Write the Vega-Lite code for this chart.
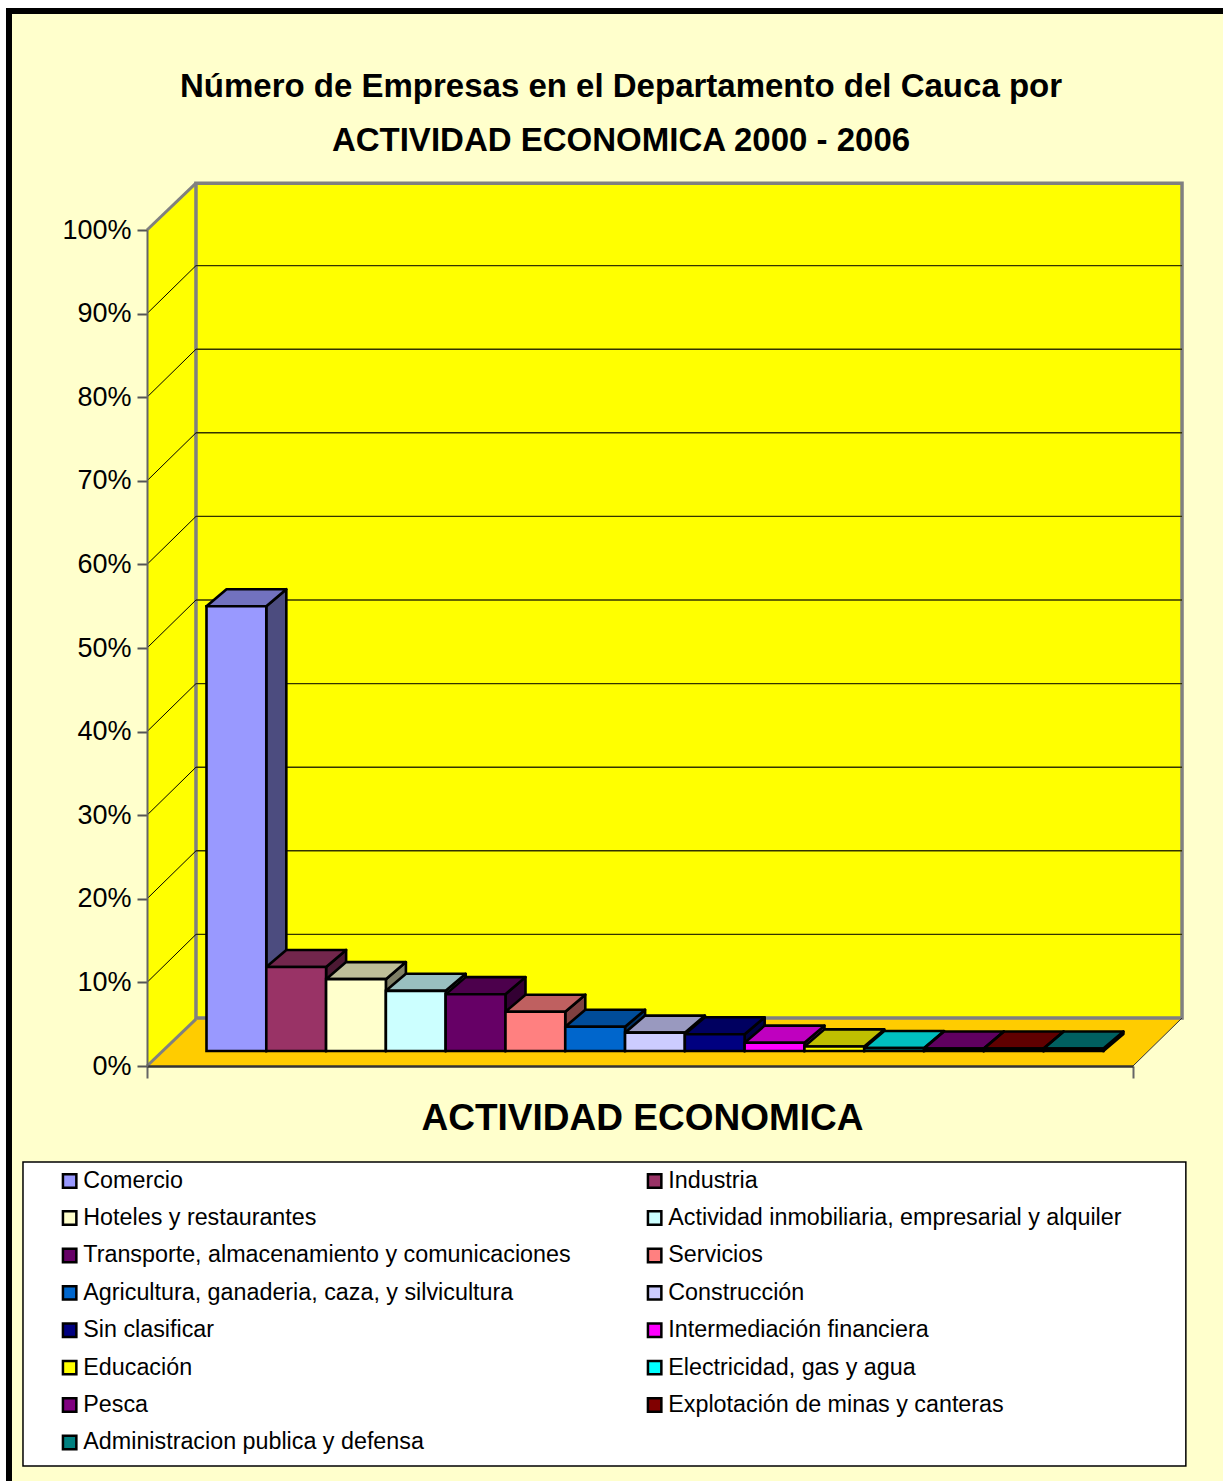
{
"$schema":"https://vega.github.io/schema/vega-lite/v6.json",
"width":986,"height":836,"autosize":"none",
"padding":{"left":147,"right":90,"top":230,"bottom":415},
"background":"#ffffff",
"title":{"text":["Número de Empresas en el Departamento del Cauca por","ACTIVIDAD ECONOMICA 2000 - 2006"],"font":"Liberation Sans","fontSize":33,"fontWeight":"bold","color":"#000000","anchor":"middle","frame":"group","dx":-19,"lineHeight":54,"offset":0,"dy":150,"zindex":1},
"datasets":{
"empresas":[
{"actividad":"Comercio","valor":53.2},
{"actividad":"Industria","valor":10.05},
{"actividad":"Hoteles y restaurantes","valor":8.6},
{"actividad":"Actividad inmobiliaria, empresarial y alquiler","valor":7.2},
{"actividad":"Transporte, almacenamiento y comunicaciones","valor":6.8},
{"actividad":"Servicios","valor":4.7},
{"actividad":"Agricultura, ganaderia, caza, y silvicultura","valor":2.9},
{"actividad":"Construcción","valor":2.2},
{"actividad":"Sin clasificar","valor":2.0},
{"actividad":"Intermediación financiera","valor":1.0},
{"actividad":"Educación","valor":0.55},
{"actividad":"Electricidad, gas y agua","valor":0.35},
{"actividad":"Pesca","valor":0.3},
{"actividad":"Explotación de minas y canteras","valor":0.3},
{"actividad":"Administracion publica y defensa","valor":0.3}
],
"niveles":[{"nivel":0},{"nivel":10},{"nivel":20},{"nivel":30},{"nivel":40},{"nivel":50},{"nivel":60},{"nivel":70},{"nivel":80},{"nivel":90},{"nivel":100}],
"uno":[{"k":0}]
},
"encoding":{
"x":{"field":"x","type":"quantitative","scale":{"domain":[0,16.49],"nice":false,"zero":false},
 "axis":{"values":[0,16.49],"labels":false,"grid":false,"title":"ACTIVIDAD ECONOMICA","titleFont":"Liberation Sans","titleFontSize":37,"titleFontWeight":"bold","titleColor":"#000000","titlePadding":21,"titleX":495,"tickSize":12,"tickColor":"#666666","tickWidth":2,"domainColor":"#333333","domainWidth":2.5,"zindex":1}},
"y":{"field":"y","type":"quantitative","scale":{"domain":[0,100],"nice":false,"zero":false},
 "axis":{"values":[0,10,20,30,40,50,60,70,80,90,100],"labelExpr":"datum.value+'%'","grid":false,"title":null,"labelFont":"Liberation Sans","labelFontSize":27,"labelColor":"#000000","labelPadding":6,"tickSize":10,"tickColor":"#555555","tickWidth":2,"domainColor":"#666666","domainWidth":2,"zindex":1}}
},
"layer":[
{"data":{"name":"uno"},"transform":[{"calculate":"-2.308","as":"x"},{"calculate":"19.3","as":"x2"},{"calculate":"126.2","as":"y"},{"calculate":"-51.9","as":"y2"}],
 "mark":{"type":"rect","fill":"#FFFFCC","stroke":"#000000","strokeWidth":6},"encoding":{"x2":{"field":"x2"},"y2":{"field":"y2"}}},
{"data":{"name":"uno"},"transform":[{"calculate":"-2.074","as":"x"},{"calculate":"17.374","as":"x2"},{"calculate":"-11.48","as":"y"},{"calculate":"-47.85","as":"y2"}],
 "mark":{"type":"rect","fill":"#FFFFFF","stroke":"#000000","strokeWidth":1.5},"encoding":{"x2":{"field":"x2"},"y2":{"field":"y2"}}},
{"data":{"name":"uno"},"transform":[{"calculate":"[0,1]","as":"p"},{"flatten":["p"]},{"calculate":"datum.p*0.819","as":"x"},{"calculate":"datum.p*5.74","as":"y"},{"calculate":"100+datum.p*5.6","as":"y2"}],
 "mark":{"type":"area","orient":"vertical","fill":"#FFFF00"},"encoding":{"y2":{"field":"y2"}}},
{"data":{"name":"uno"},"transform":[{"calculate":"[0,1]","as":"p"},{"flatten":["p"]},{"calculate":"datum.p*0.819","as":"x"},{"calculate":"16.49+datum.p*0.819","as":"x2"},{"calculate":"datum.p*5.74","as":"y"}],
 "mark":{"type":"area","orient":"horizontal","fill":"#FFCC00"},"encoding":{"x2":{"field":"x2"}}},
{"data":{"name":"uno"},"transform":[{"calculate":"0.819","as":"x"},{"calculate":"17.31","as":"x2"},{"calculate":"5.74","as":"y"},{"calculate":"105.6","as":"y2"}],
 "mark":{"type":"rect","fill":"#FFFF00","stroke":"#808080","strokeWidth":3.5},"encoding":{"x2":{"field":"x2"},"y2":{"field":"y2"}}},
{"data":{"name":"niveles"},"transform":[{"filter":"datum.nivel>0 && datum.nivel<100"},{"calculate":"0.819","as":"x"},{"calculate":"17.31","as":"x2"},{"calculate":"datum.nivel+5.74","as":"y"}],
 "mark":{"type":"rule","stroke":"#333300","strokeWidth":1.4},"encoding":{"x2":{"field":"x2"}}},
{"data":{"name":"niveles"},"transform":[{"filter":"datum.nivel>0 && datum.nivel<100"},{"calculate":"0","as":"x"},{"calculate":"0.819","as":"x2"},{"calculate":"datum.nivel","as":"y"},{"calculate":"datum.nivel+5.74","as":"y2"}],
 "mark":{"type":"rule","stroke":"#000000","strokeWidth":1},"encoding":{"x2":{"field":"x2"},"y2":{"field":"y2"}}},
{"data":{"name":"niveles"},"transform":[{"filter":"datum.nivel==0 || datum.nivel==100"},{"calculate":"0","as":"x"},{"calculate":"0.819","as":"x2"},{"calculate":"datum.nivel","as":"y"},{"calculate":"datum.nivel+5.6","as":"y2"}],
 "mark":{"type":"rule","stroke":"#808080","strokeWidth":3},"encoding":{"x2":{"field":"x2"},"y2":{"field":"y2"}}},
{"data":{"name":"uno"},"transform":[{"calculate":"16.49","as":"x"},{"calculate":"17.31","as":"x2"},{"calculate":"0","as":"y"},{"calculate":"5.74","as":"y2"}],
 "mark":{"type":"rule","stroke":"#333333","strokeWidth":1},"encoding":{"x2":{"field":"x2"},"y2":{"field":"y2"}}},
{"data":{"name":"empresas"},"transform":[{"window":[{"op":"row_number","as":"n"}]},{"calculate":"[0,1]","as":"p"},{"flatten":["p"]},{"calculate":"datum.n-1+0.745+1.25+datum.p*0.335","as":"x"},{"calculate":"datum.valor+1.79+datum.p*2.04","as":"y"},{"calculate":"1.79+datum.p*2.04","as":"y2"}],
 "mark":{"type":"area","orient":"vertical"},
 "encoding":{"y2":{"field":"y2"},"detail":{"field":"actividad"},"fill":{"field":"actividad","type":"nominal","sort":null,"scale":{"domain":["Comercio","Industria","Hoteles y restaurantes","Actividad inmobiliaria, empresarial y alquiler","Transporte, almacenamiento y comunicaciones","Servicios","Agricultura, ganaderia, caza, y silvicultura","Construcción","Sin clasificar","Intermediación financiera","Educación","Electricidad, gas y agua","Pesca","Explotación de minas y canteras","Administracion publica y defensa"],"range":["#9999FF","#993366","#FFFFCC","#CCFFFF","#660066","#FF8080","#0066CC","#CCCCFF","#000080","#FF00FF","#FFFF00","#00FFFF","#800080","#800000","#008080"]},
  "legend":{"orient":"none","direction":"horizontal","legendX":-89,"legendY":939,"zindex":1,"columns":2,"title":null,"symbolType":"square","symbolSize":180,"symbolStrokeColor":"#000000","symbolStrokeWidth":2.5,"symbolOpacity":1,"labelFont":"Liberation Sans","labelFontSize":23.3,"labelColor":"#000000","labelLimit":700,"labelOffset":2,"rowPadding":12.4,"columnPadding":71,"padding":0}}}},
{"data":{"name":"empresas"},"transform":[{"window":[{"op":"row_number","as":"n"}]},{"calculate":"[0,1]","as":"p"},{"flatten":["p"]},{"calculate":"datum.n-1+0.745+1.25+datum.p*0.335","as":"x"},{"calculate":"datum.valor+1.79+datum.p*2.04","as":"y"},{"calculate":"1.79+datum.p*2.04","as":"y2"}],
 "mark":{"type":"area","orient":"vertical","fill":"#000000","fillOpacity":0.5,"stroke":"#000000","strokeWidth":2.6,"strokeJoin":"round"},
 "encoding":{"y2":{"field":"y2"},"detail":{"field":"actividad"}}},
{"data":{"name":"empresas"},"transform":[{"window":[{"op":"row_number","as":"n"}]},{"calculate":"[0,1]","as":"p"},{"flatten":["p"]},{"calculate":"datum.n-1+0.745+0.25+datum.p*0.335","as":"x"},{"calculate":"datum.x+1","as":"x2"},{"calculate":"datum.valor+1.79+datum.p*2.04","as":"y"}],
 "mark":{"type":"area","orient":"horizontal"},
 "encoding":{"x2":{"field":"x2"},"detail":{"field":"actividad"},"fill":{"field":"actividad","type":"nominal","sort":null}}},
{"data":{"name":"empresas"},"transform":[{"window":[{"op":"row_number","as":"n"}]},{"calculate":"[0,1]","as":"p"},{"flatten":["p"]},{"calculate":"datum.n-1+0.745+0.25+datum.p*0.335","as":"x"},{"calculate":"datum.x+1","as":"x2"},{"calculate":"datum.valor+1.79+datum.p*2.04","as":"y"}],
 "mark":{"type":"area","orient":"horizontal","fill":"#000000","fillOpacity":0.25,"stroke":"#000000","strokeWidth":2.6,"strokeJoin":"round"},
 "encoding":{"x2":{"field":"x2"},"detail":{"field":"actividad"}}},
{"data":{"name":"empresas"},"transform":[{"window":[{"op":"row_number","as":"n"}]},{"calculate":"datum.n-1+0.745+0.25","as":"x"},{"calculate":"datum.x+1","as":"x2"},{"calculate":"datum.valor+1.79","as":"y"},{"calculate":"1.79","as":"y2"}],
 "mark":{"type":"rect","stroke":"#000000","strokeWidth":2.6},
 "encoding":{"x2":{"field":"x2"},"y2":{"field":"y2"},"fill":{"field":"actividad","type":"nominal","sort":null}}}
]
}
